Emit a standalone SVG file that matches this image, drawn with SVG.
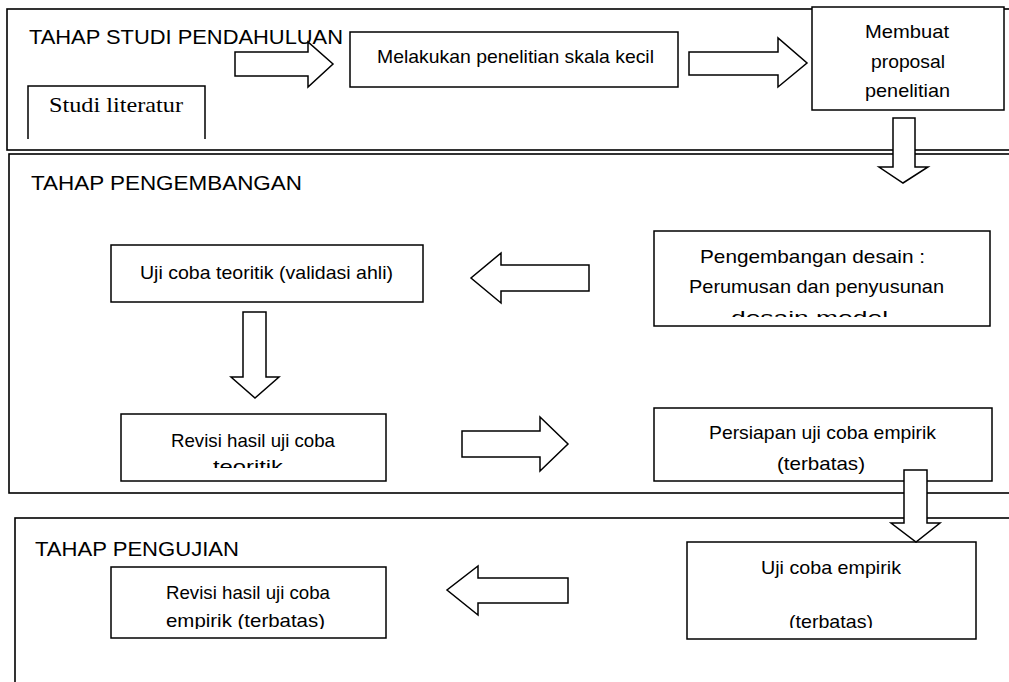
<svg xmlns="http://www.w3.org/2000/svg" width="1009" height="682" viewBox="0 0 1009 682">
<style>
.sec{fill:none;stroke:#000;stroke-width:1.6}
.box{fill:#fff;stroke:#000;stroke-width:1.5}
.arr{fill:#fff;stroke:#000;stroke-width:1.5;stroke-linejoin:miter}
.t{font-family:"Liberation Sans",Arial,sans-serif;font-size:18.5px;fill:#000}
.h{font-family:"Liberation Sans",Arial,sans-serif;font-size:21px;fill:#000}
.s{font-family:"Liberation Serif","Times New Roman",serif;font-size:21px;fill:#000}
</style>
<defs>
<clipPath id="c1"><rect x="654" y="231" width="336" height="86"/></clipPath>
<clipPath id="c2"><rect x="121" y="414" width="265" height="54"/></clipPath>
<clipPath id="c3"><rect x="687" y="542" width="289" height="86"/></clipPath>
<clipPath id="c4"><rect x="111" y="567" width="275" height="62"/></clipPath>
</defs>
<rect width="1009" height="682" fill="#fff"/>

<g id="sec-studi">
<rect class="sec" x="7" y="9" width="1030" height="141"/>
<text class="h" x="29" y="44" textLength="314" lengthAdjust="spacingAndGlyphs">TAHAP STUDI PENDAHULUAN</text>
</g>
<g id="sec-pengembangan">
<rect class="sec" x="9" y="154" width="1030" height="339"/>
<text class="h" x="31" y="190" textLength="271" lengthAdjust="spacingAndGlyphs">TAHAP PENGEMBANGAN</text>
</g>
<g id="sec-pengujian">
<rect class="sec" x="15" y="518" width="1030" height="200"/>
<text class="h" x="35" y="556" textLength="204" lengthAdjust="spacingAndGlyphs">TAHAP PENGUJIAN</text>
</g>

<g id="n-studi">
<path class="box" d="M28,139 V86 H205 V139" fill="none"/>
<text class="s" x="49" y="112" textLength="134" lengthAdjust="spacingAndGlyphs">Studi literatur</text>
</g>
<g id="n-melakukan">
<rect class="box" x="350" y="32" width="328" height="55"/>
<text class="t" x="377" y="63" textLength="277" lengthAdjust="spacingAndGlyphs">Melakukan penelitian skala kecil</text>
</g>
<g id="n-proposal">
<rect class="box" x="812" y="7" width="192" height="103"/>
<text class="t" x="865" y="38" textLength="84" lengthAdjust="spacingAndGlyphs">Membuat</text>
<text class="t" x="871" y="68" textLength="74" lengthAdjust="spacingAndGlyphs">proposal</text>
<text class="t" x="865" y="97" textLength="85" lengthAdjust="spacingAndGlyphs">penelitian</text>
</g>
<g id="n-desain">
<rect class="box" x="654" y="231" width="336" height="95"/>
<g clip-path="url(#c1)">
<text class="t" x="700" y="263" textLength="225" lengthAdjust="spacingAndGlyphs">Pengembangan desain :</text>
<text class="t" x="689" y="293" textLength="255" lengthAdjust="spacingAndGlyphs">Perumusan dan penyusunan</text>
<text class="t" x="731" y="324" textLength="157" lengthAdjust="spacingAndGlyphs">desain model</text>
</g>
</g>
<g id="n-ujiteoritik">
<rect class="box" x="111" y="245" width="312" height="57"/>
<text class="t" x="140" y="279" textLength="253" lengthAdjust="spacingAndGlyphs">Uji coba teoritik (validasi ahli)</text>
</g>
<g id="n-revisiteoritik">
<rect class="box" x="121" y="414" width="265" height="67"/>
<g clip-path="url(#c2)">
<text class="t" x="171" y="447" textLength="164" lengthAdjust="spacingAndGlyphs">Revisi hasil uji coba</text>
<text class="t" x="213" y="473" textLength="70" lengthAdjust="spacingAndGlyphs">teoritik</text>
</g>
</g>
<g id="n-persiapan">
<rect class="box" x="654" y="408" width="338" height="73"/>
<text class="t" x="709" y="439" textLength="227" lengthAdjust="spacingAndGlyphs">Persiapan uji coba empirik</text>
<text class="t" x="777" y="470" textLength="88" lengthAdjust="spacingAndGlyphs">(terbatas)</text>
</g>
<g id="n-ujiempirik">
<rect class="box" x="687" y="542" width="289" height="97"/>
<g clip-path="url(#c3)">
<text class="t" x="761" y="574" textLength="140" lengthAdjust="spacingAndGlyphs">Uji coba empirik</text>
<text class="t" x="789" y="628" textLength="84" lengthAdjust="spacingAndGlyphs">(terbatas)</text>
</g>
</g>
<g id="n-revisiempirik">
<rect class="box" x="111" y="567" width="275" height="71"/>
<g clip-path="url(#c4)">
<text class="t" x="166" y="599" textLength="164" lengthAdjust="spacingAndGlyphs">Revisi hasil uji coba</text>
<text class="t" x="166" y="627" textLength="159" lengthAdjust="spacingAndGlyphs">empirik (terbatas)</text>
</g>
</g>

<g id="connectors">
<polygon class="arr" points="235,52 308,52 308,42 333,64 308,87 308,76 235,76"/>
<polygon class="arr" points="689,52 778,52 778,38 807,63 778,87 778,75 689,75"/>
<polygon class="arr" points="893,118 915,118 915,167 928,167 903,183 879,167 893,167"/>
<polygon class="arr" points="589,265 501,265 501,253 471,278 501,303 501,291 589,291"/>
<polygon class="arr" points="243,312 266,312 266,377 279,377 255,398 231,377 243,377"/>
<polygon class="arr" points="462,431 540,431 540,417 568,444 540,471 540,457 462,457"/>
<polygon class="arr" points="904,470 927,470 927,523 940,523 916,542 891,523 904,523"/>
<polygon class="arr" points="568,578 478,578 478,566 447,590 478,615 478,603 568,603"/>
</g>
</svg>
